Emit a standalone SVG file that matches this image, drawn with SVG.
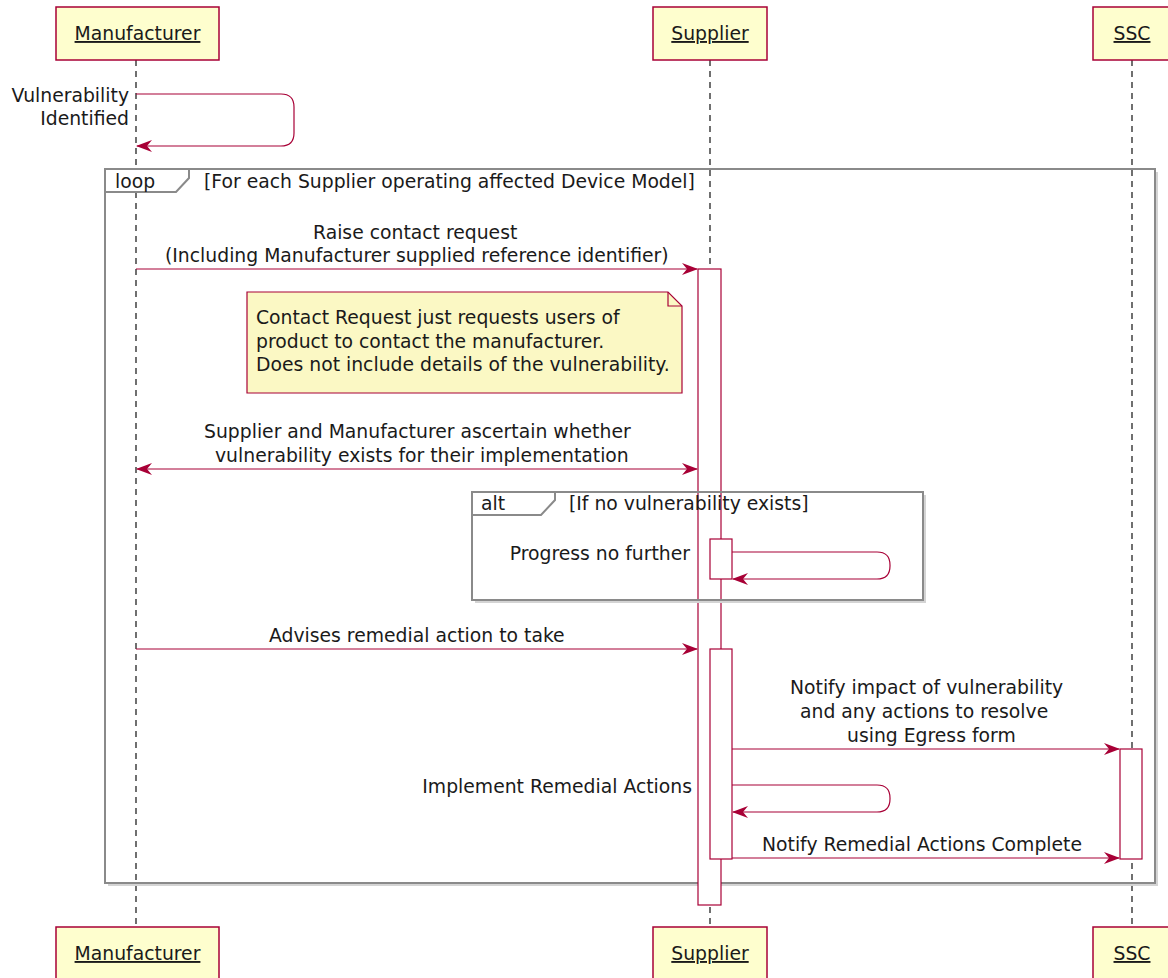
<svg xmlns="http://www.w3.org/2000/svg" width="1168" height="978" viewBox="0 0 1168 978">
<defs>
<marker id="ah" viewBox="0 0 16 14" refX="15" refY="7" markerWidth="16" markerHeight="14" markerUnits="userSpaceOnUse" orient="auto-start-reverse">
<path d="M0,1 L16,7 L0,13 L5,7 Z" fill="#A80036"/>
</marker>
<style>
text{font-family:"DejaVu Sans","Liberation Sans",sans-serif;font-size:18.8px;fill:#1a1a1a}
.pbox{fill:#FEFECE;stroke:#A80036;stroke-width:1.5}
.pname{text-anchor:middle;text-decoration:underline}
.life{stroke:#111;stroke-width:1.2;stroke-dasharray:6,5;fill:none}
.msg{stroke:#A80036;stroke-width:1.2;fill:none;marker-end:url(#ah)}
.both{marker-start:url(#ah)}
.act{fill:#fff;stroke:#A80036;stroke-width:1.2}
.frame{fill:none;stroke:#8a8a8a;stroke-width:2}
.fshadow{fill:none;stroke:#d4d4d4;stroke-width:2}
.tab{fill:#fff;stroke:#8a8a8a;stroke-width:2}
.note{fill:#FBF8C4;stroke:#A80036;stroke-width:1.2}
.end{text-anchor:end}
</style>
</defs>
<rect width="1168" height="978" fill="#fff"/>

<g id="lifelines">
<line class="life" x1="136" y1="60" x2="136" y2="927"/>
<line class="life" x1="710" y1="60" x2="710" y2="927"/>
<line class="life" x1="1132" y1="60" x2="1132" y2="927"/>
</g>

<g id="participant-manufacturer">
<rect class="pbox" x="56" y="7" width="163" height="53"/>
<text class="pname" x="137.5" y="40">Manufacturer</text>
<rect class="pbox" x="56" y="927" width="163" height="53"/>
<text class="pname" x="137.5" y="960">Manufacturer</text>
</g>
<g id="participant-supplier">
<rect class="pbox" x="653" y="7" width="114" height="53"/>
<text class="pname" x="710" y="40">Supplier</text>
<rect class="pbox" x="653" y="927" width="114" height="53"/>
<text class="pname" x="710" y="960">Supplier</text>
</g>
<g id="participant-ssc">
<rect class="pbox" x="1093" y="7" width="78" height="53"/>
<text class="pname" x="1132" y="40">SSC</text>
<rect class="pbox" x="1093" y="927" width="78" height="53"/>
<text class="pname" x="1132" y="960">SSC</text>
</g>

<g id="loop-frame">
<path class="fshadow" d="M1157,172 V885 H108"/>
<rect class="frame" x="105" y="169" width="1050" height="714"/>
<path class="tab" d="M105,169 H189 V178 L176,192 H105 Z"/>
<text x="115" y="188">loop</text>
<text x="204" y="188">[For each Supplier operating affected Device Model]</text>
</g>

<g id="activations">
<rect class="act" x="698" y="269" width="23" height="636"/>
</g>

<g id="note">
<path class="note" d="M247,292 H668 L682,306 V393 H247 Z"/>
<path d="M668,292 V306 H682" fill="none" stroke="#A80036" stroke-width="1.2"/>
<text x="256" y="324">Contact Request just requests users of</text>
<text x="256" y="347.5">product to contact the manufacturer.</text>
<text x="256" y="371">Does not include details of the vulnerability.</text>
</g>

<g id="alt-frame">
<path class="fshadow" d="M925,495 V602 H475"/>
<rect class="frame" x="472" y="492" width="451" height="108"/>
<path class="tab" d="M472,492 H555 V500 L541,515 H472 Z"/>
<text x="481" y="510">alt</text>
<text x="569" y="510">[If no vulnerability exists]</text>
</g>

<g id="activations-2">
<rect class="act" x="710" y="539" width="22" height="40"/>
<rect class="act" x="710" y="649" width="22" height="210"/>
<rect class="act" x="1120" y="749" width="22" height="110"/>
</g>

<g id="connectors">
<path class="msg" d="M136,94 H281 Q294,94 294,107 V133 Q294,146 281,146 H137"/>
<path class="msg" d="M136,269 H697"/>
<path class="msg both" d="M137,469 H697"/>
<path class="msg" d="M732,552 H877 Q890,552 890,565 V566 Q890,579 877,579 H733"/>
<path class="msg" d="M136,649 H697"/>
<path class="msg" d="M732,749 H1119"/>
<path class="msg" d="M732,785 H877 Q890,785 890,798 V799 Q890,812 877,812 H733"/>
<path class="msg" d="M732,858 H1119"/>
</g>

<g id="labels">
<text class="end" x="129" y="102">Vulnerability</text>
<text class="end" x="129" y="125">Identified</text>
<text x="313" y="239">Raise contact request</text>
<text x="165" y="262">(Including Manufacturer supplied reference identifier)</text>
<text x="204" y="438">Supplier and Manufacturer ascertain whether</text>
<text x="215" y="462">vulnerability exists for their implementation</text>
<text class="end" x="690" y="560">Progress no further</text>
<text x="269" y="642">Advises remedial action to take</text>
<text x="790" y="694">Notify impact of vulnerability</text>
<text x="800" y="718">and any actions to resolve</text>
<text x="847" y="742">using Egress form</text>
<text class="end" x="692" y="793">Implement Remedial Actions</text>
<text x="762" y="851">Notify Remedial Actions Complete</text>
</g>
</svg>
